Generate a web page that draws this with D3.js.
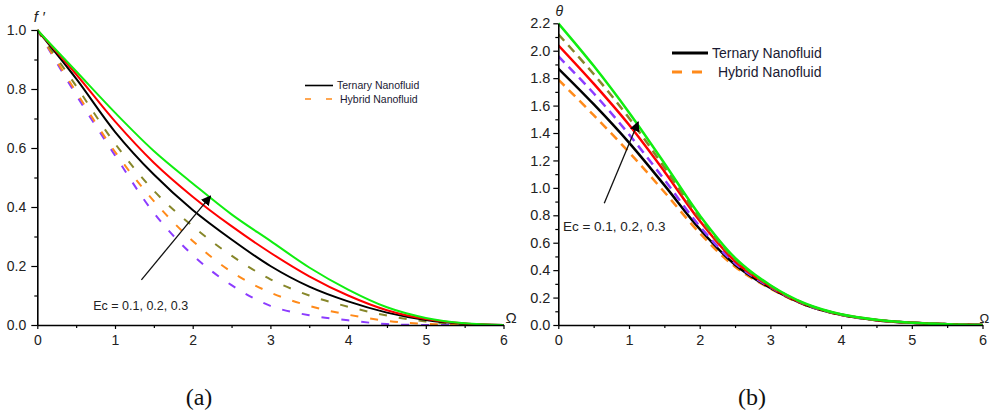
<!DOCTYPE html>
<html>
<head>
<meta charset="utf-8">
<script src="https://cdn.jsdelivr.net/npm/d3@7"></script>
<style>
  body { margin: 0; background: #fff; }
  svg { display: block; font-family: "Liberation Sans", Arial, sans-serif; }
  .tick text { fill: #222; }
</style>
</head>
<body>
<svg id="chart" width="992" height="418"></svg>
<script>
const omega = [0, 0.5, 1, 1.5, 2, 2.5, 3, 3.5, 4, 4.5, 5, 5.5, 6];

// (a) f'
const fTernary01 = [1.0, 0.835, 0.655, 0.51, 0.39, 0.29, 0.2, 0.13, 0.08, 0.042, 0.017, 0.004, 0];
const fTernary02 = [1.0, 0.85, 0.69, 0.55, 0.435, 0.335, 0.245, 0.165, 0.1, 0.05, 0.02, 0.005, 0];
const fTernary03 = [1.0, 0.86, 0.72, 0.59, 0.48, 0.375, 0.285, 0.195, 0.12, 0.06, 0.024, 0.006, 0];
const fHybrid01 = [1.0, 0.78, 0.575, 0.38, 0.237, 0.135, 0.065, 0.033, 0.016, 0.003, 0, 0, 0];
const fHybrid02 = [1.0, 0.79, 0.587, 0.42, 0.285, 0.18, 0.11, 0.065, 0.035, 0.014, 0.004, 0, 0];
const fHybrid03 = [1.0, 0.81, 0.615, 0.455, 0.335, 0.235, 0.155, 0.1, 0.062, 0.032, 0.012, 0.002, 0];

// (b) theta
const tTernary01 = [1.87, 1.61, 1.33, 1.02, 0.70, 0.44, 0.27, 0.146, 0.074, 0.035, 0.016, 0.006, 0];
const tTernary02 = [2.04, 1.76, 1.46, 1.12, 0.76, 0.465, 0.28, 0.15, 0.076, 0.037, 0.016, 0.006, 0];
const tTernary03 = [2.2, 1.89, 1.55, 1.18, 0.80, 0.49, 0.29, 0.155, 0.078, 0.038, 0.017, 0.006, 0];
const tHybrid01 = [1.79, 1.53, 1.26, 0.97, 0.67, 0.425, 0.265, 0.144, 0.073, 0.035, 0.016, 0.006, 0];
const tHybrid02 = [1.96, 1.69, 1.39, 1.06, 0.72, 0.45, 0.275, 0.148, 0.075, 0.036, 0.016, 0.006, 0];
const tHybrid03 = [2.12, 1.83, 1.51, 1.15, 0.78, 0.48, 0.285, 0.152, 0.077, 0.037, 0.017, 0.006, 0];

const xTicks = [0, 1, 2, 3, 4, 5, 6];
const xMinor = [0.5, 1.5, 2.5, 3.5, 4.5, 5.5];
const fTicks = [0, 0.2, 0.4, 0.6, 0.8, 1.0];
const fMinor = [0.1, 0.3, 0.5, 0.7, 0.9];
const tTicks = [0, 0.2, 0.4, 0.6, 0.8, 1.0, 1.2, 1.4, 1.6, 1.8, 2.0, 2.2];
const tMinor = [0.1, 0.3, 0.5, 0.7, 0.9, 1.1, 1.3, 1.5, 1.7, 1.9, 2.1];

const legendNames = ["Ternary Nanofluid", "Hybrid Nanofluid"];
const ecLabel = "Ec = 0.1, 0.2, 0.3";

const colBlack = "#000", colRed = "#ff0000", colGreen = "#10ee10";
const colOrange = "#ff8a1a", colPurple = "#8c3cff", colOlive = "#87872a";

const svg = d3.select("#chart");
const defs = svg.append("defs");

defs.append("marker")
    .attr("id", "arrow")
    .attr("viewBox", "0 0 10 10")
    .attr("refX", 9).attr("refY", 5)
    .attr("markerWidth", 10).attr("markerHeight", 10)
    .attr("markerUnits", "userSpaceOnUse")
    .attr("orient", "auto")
    .append("path").attr("d", "M0,0 L10,5 L0,10 z").attr("fill", "#000");

function panel(opt) {
    let g = svg.append("g");
    let x = d3.scaleLinear().domain([0, 6]).range(opt.xr);
    let y = d3.scaleLinear().domain([0, opt.ymax]).range(opt.yr);

    // keep the smoothed curves inside the plot box
    defs.append("clipPath").attr("id", opt.id)
        .append("rect")
        .attr("x", opt.xr[0]).attr("y", opt.yr[1] - 3)
        .attr("width", opt.xr[1] - opt.xr[0] + 2)
        .attr("height", opt.yr[0] - opt.yr[1] + 3.5);

    let line = d3.line()
        .x((d, i) => x(omega[i]))
        .y(d => y(d))
        .curve(d3.curveCatmullRom.alpha(0.5));

    let curves = g.append("g").attr("clip-path", `url(#${opt.id})`);
    opt.series.forEach(s => {
        curves.append("path")
            .attr("fill", "none")
            .attr("stroke", s.color)
            .attr("stroke-width", opt.lw)
            .attr("stroke-dasharray", s.dash ? opt.dash : null)
            .attr("d", line(s.values));
    });

    // axes
    let xAxis = g.append("g").attr("transform", `translate(0,${opt.yr[0]})`)
        .call(d3.axisBottom(x).tickValues(xTicks).tickFormat(d3.format("d"))
            .tickSize(4).tickPadding(6).tickSizeOuter(0));
    g.append("g").attr("transform", `translate(0,${opt.yr[0]})`)
        .call(d3.axisBottom(x).tickValues(xMinor).tickFormat("").tickSize(3).tickSizeOuter(0))
        .select(".domain").remove();
    let yAxis = g.append("g").attr("transform", `translate(${opt.xr[0]},0)`)
        .call(d3.axisLeft(y).tickValues(opt.yTicks).tickFormat(d3.format(".1f"))
            .tickSize(opt.ytick).tickPadding(opt.ypad).tickSizeOuter(0));
    g.append("g").attr("transform", `translate(${opt.xr[0]},0)`)
        .call(d3.axisLeft(y).tickValues(opt.yMinor).tickFormat("").tickSize(3).tickSizeOuter(0))
        .select(".domain").remove();

    g.selectAll(".domain").attr("stroke-width", 1.6);
    g.selectAll(".tick line").attr("stroke-width", 1.2);
    xAxis.selectAll("text").attr("font-size", opt.fs);
    yAxis.selectAll("text").attr("font-size", opt.fs);

    // axis names
    g.append("text").attr("x", opt.xr[0] + opt.ylabDx).attr("y", opt.ylabY)
        .attr("text-anchor", "middle").attr("font-style", "italic")
        .attr("font-size", opt.ylabFs).attr("fill", "#222")
        .text(opt.ylab);
    g.append("text").attr("x", opt.xr[1] + opt.omDx).attr("y", opt.yr[0] - 2)
        .attr("font-size", opt.omFs).attr("fill", "#222").text("Ω");

    // annotation arrow
    g.append("line")
        .attr("x1", x(opt.arrow[0])).attr("y1", y(opt.arrow[1]))
        .attr("x2", x(opt.arrow[2])).attr("y2", y(opt.arrow[3]))
        .attr("stroke", "#111").attr("stroke-width", 1.3)
        .attr("marker-end", "url(#arrow)");
    g.append("text").attr("x", x(opt.ec[0])).attr("y", y(opt.ec[1]))
        .attr("font-size", opt.ecFs).attr("fill", "#222").text(ecLabel);

    // legend
    let L = opt.legend;
    g.append("line").attr("x1", L.x).attr("x2", L.x + L.len)
        .attr("y1", L.y).attr("y2", L.y)
        .attr("stroke", colBlack).attr("stroke-width", L.lw);
    g.append("line").attr("x1", L.x).attr("x2", L.x + L.len)
        .attr("y1", L.y + L.dy).attr("y2", L.y + L.dy)
        .attr("stroke", colOrange).attr("stroke-width", L.lw)
        .attr("stroke-dasharray", L.dash);
    g.append("text").attr("x", L.x + L.len + 4).attr("y", L.y + L.fs * 0.36)
        .attr("font-size", L.fs).attr("fill", "#1a1a33").text(legendNames[0]);
    g.append("text").attr("x", L.x + L.len + L.hx).attr("y", L.y + L.dy + L.fs * 0.36)
        .attr("font-size", L.fs).attr("fill", "#1a1a33").text(legendNames[1]);
}

panel({
    id: "clipA",
    xr: [37.3, 503.5], yr: [325, 30], ymax: 1.0,
    yTicks: fTicks, yMinor: fMinor, ytick: 6, ypad: 5, fs: 14,
    lw: 2, dash: "8,12",
    ylab: "f ′", ylabDx: 2, ylabY: 22, ylabFs: 15,
    omDx: 2, omFs: 15,
    arrow: [1.34, 0.153, 2.23, 0.437],
    ec: [0.72, 0.05], ecFs: 12.5,
    legend: { x: 305, y: 85.5, len: 28, dy: 13.5, lw: 1.6, dash: "6,15", fs: 10.5, hx: 7 },
    series: [
        { values: fHybrid01, color: colPurple, dash: true },
        { values: fHybrid02, color: colOrange, dash: true },
        { values: fHybrid03, color: colOlive, dash: true },
        { values: fTernary01, color: colBlack },
        { values: fTernary02, color: colRed },
        { values: fTernary03, color: colGreen }
    ]
});

panel({
    id: "clipB",
    xr: [558.3, 982.5], yr: [325, 23.3], ymax: 2.2,
    yTicks: tTicks, yMinor: tMinor, ytick: 5, ypad: 3, fs: 14.5,
    lw: 2.5, dash: "9,6",
    ylab: "θ", ylabDx: 1, ylabY: 16, ylabFs: 14,
    omDx: -3, omFs: 13,
    arrow: [0.65, 0.887, 1.13, 1.48],
    ec: [0.066, 0.685], ecFs: 13.5,
    legend: { x: 672, y: 53, len: 36, dy: 19, lw: 3, dash: "10,10", fs: 14, hx: 10 },
    series: [
        { values: tHybrid01, color: colOrange, dash: true },
        { values: tTernary01, color: colBlack },
        { values: tHybrid02, color: colPurple, dash: true },
        { values: tTernary02, color: colRed },
        { values: tHybrid03, color: colOlive, dash: true },
        { values: tTernary03, color: colGreen }
    ]
});

// sub-figure captions
svg.selectAll("text.cap").data(["(a)", "(b)"]).enter().append("text")
    .attr("class", "cap")
    .attr("x", (d, i) => [199, 752][i]).attr("y", 405)
    .attr("text-anchor", "middle")
    .attr("font-family", "'Liberation Serif', 'Times New Roman', serif")
    .attr("font-size", 24).attr("fill", "#111")
    .text(d => d);
</script>
</body>
</html>
